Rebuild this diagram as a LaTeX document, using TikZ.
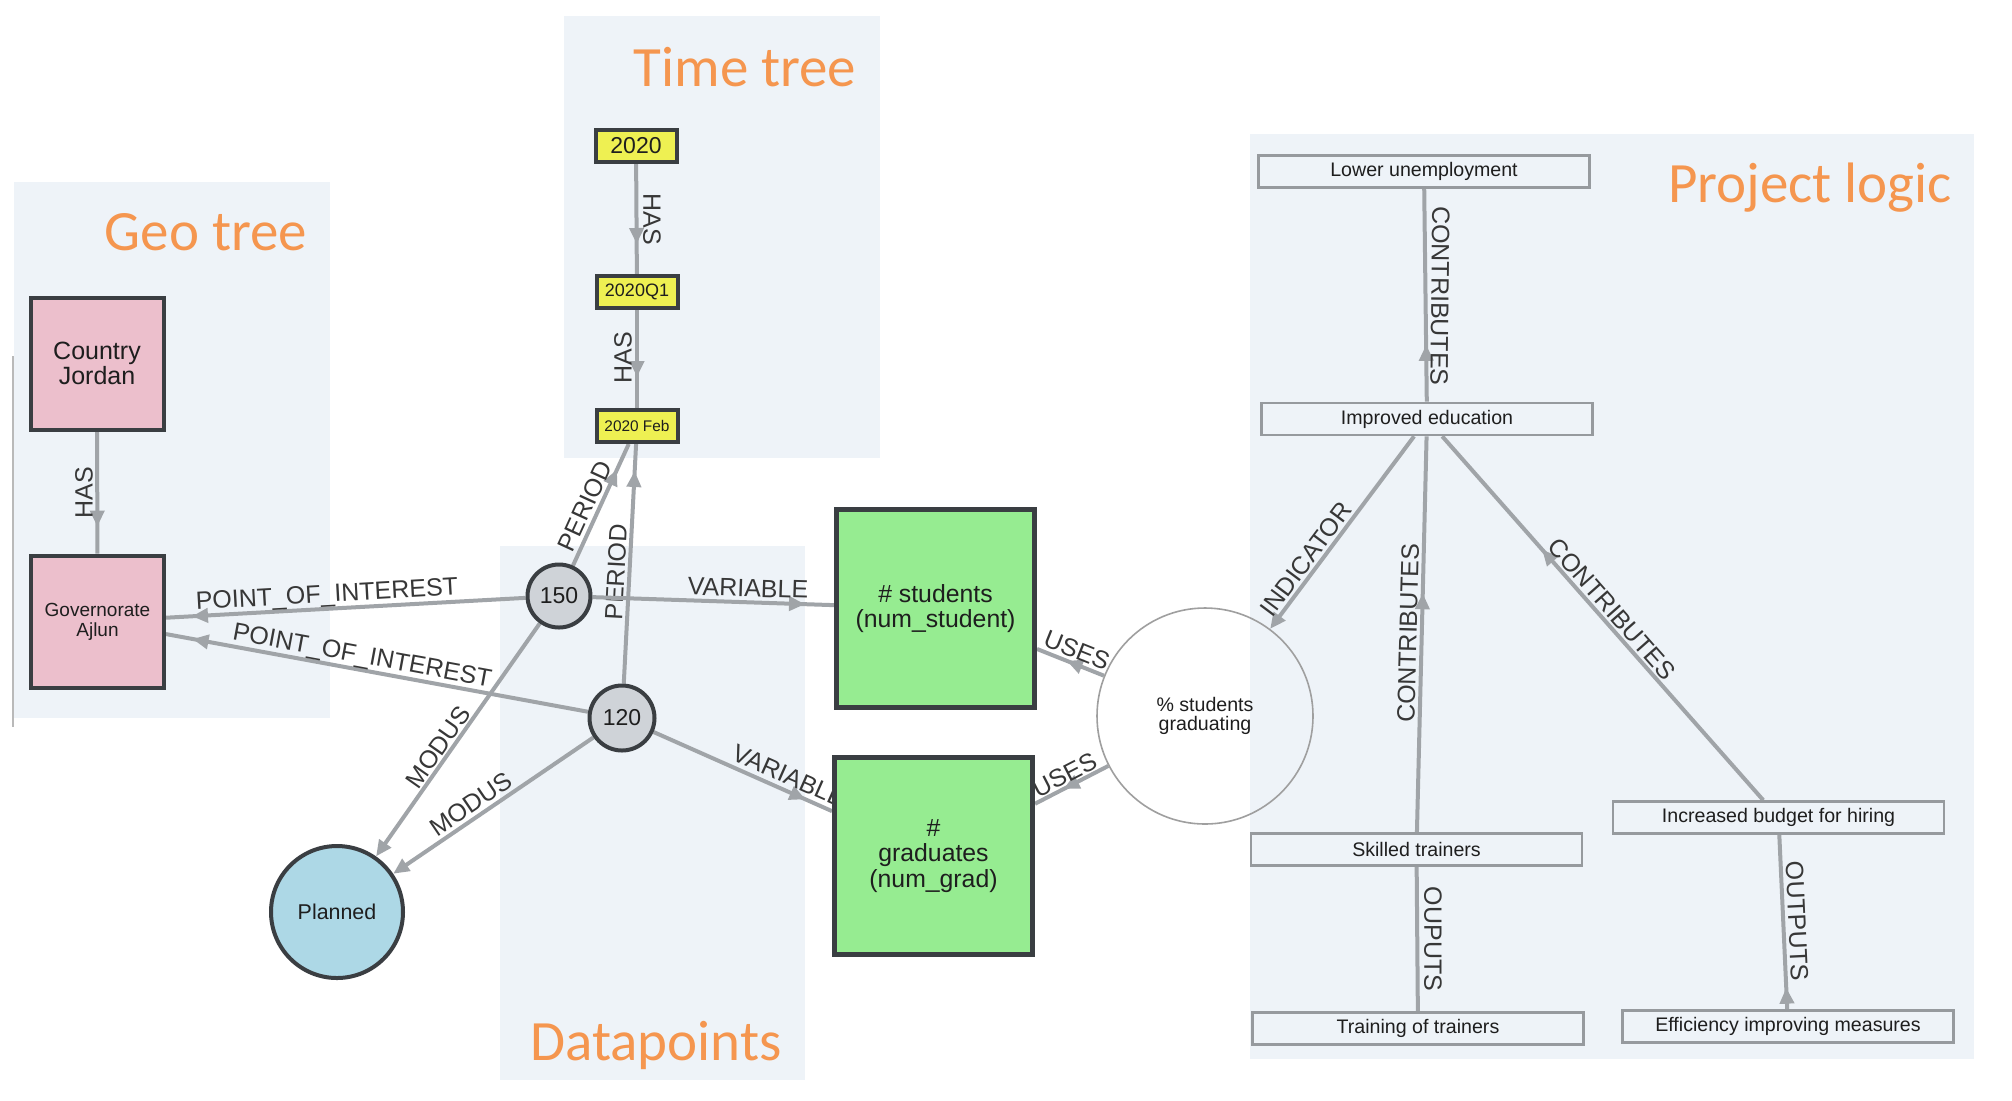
\documentclass[tikz,border=0pt]{standalone}
\usepackage{fontspec}
\setmainfont{Liberation Sans}
\newfontfamily\titlefont{Carlito}
\usetikzlibrary{arrows.meta,decorations.markings}
\definecolor{panel}{RGB}{238,243,248}
\definecolor{orng}{RGB}{245,150,79}
\definecolor{pinkn}{RGB}{236,191,204}
\definecolor{greenn}{RGB}{150,236,145}
\definecolor{yelln}{RGB}{238,240,82}
\definecolor{bluen}{RGB}{173,216,230}
\definecolor{grayn}{RGB}{207,211,216}
\definecolor{bordern}{RGB}{58,62,66}
\definecolor{edgegray}{RGB}{160,164,168}
\definecolor{boxgray}{RGB}{150,154,158}
\definecolor{labeltext}{RGB}{55,55,55}
\definecolor{nodetext}{RGB}{30,30,30}
\pgfdeclarelayer{bg}
\pgfdeclarelayer{edges}
\pgfsetlayers{bg,edges,main}
\begin{document}
\begin{tikzpicture}[x=0.5pt,y=-0.5pt,
  panelbox/.style={fill=panel,draw=none},
  titletext/.style={font=\titlefont\fontsize{28.5}{30}\selectfont,text=orng,inner sep=0pt},
  darkbox/.style={rectangle,draw=bordern,line width=2pt,text=nodetext,align=center,inner sep=0pt},
  geobox/.style={darkbox,fill=pinkn,minimum width=66.5pt,minimum height=66pt},
  timebox/.style={darkbox,fill=yelln,minimum width=40.5pt,minimum height=16pt},
  valcirc/.style={circle,draw=bordern,line width=2pt,fill=grayn,text=nodetext,inner sep=0pt,
    minimum size=31.5pt,font=\fontsize{11.5}{12}\selectfont},
  varbox/.style={darkbox,fill=greenn,line width=2.5pt,minimum width=99pt,minimum height=99pt,
    font=\fontsize{12.4}{12.6}\selectfont},
  logicbox/.style={rectangle,draw=boxgray,line width=1.3pt,fill=panel,text=nodetext,inner sep=0pt,
    minimum width=165.5pt,minimum height=16pt,font=\fontsize{9.8}{10}\selectfont},
  edge/.style={color=edgegray,line width=2pt},
  arr/.style={postaction={decorate,decoration={markings,
    mark=at position #1 with {\arrow{Triangle[length=8pt,width=7pt]}}}}},
  endarr/.style={-{Triangle[length=8pt,width=7pt]}},
  elabel/.style={font=\fontsize{12.5}{13}\selectfont,text=labeltext,inner sep=0pt}
]
\useasboundingbox (0,0) rectangle (2012,1100);

% ---------- panels and titles ----------
\begin{pgfonlayer}{bg}
  \fill[white] (0,0) rectangle (2012,1100);
  \fill[panelbox] (14,182) rectangle (330,718);
  \fill[panelbox] (564,16) rectangle (880,458);
  \fill[panelbox] (500,546) rectangle (805,1080);
  \fill[panelbox] (1250,134) rectangle (1974,1059);
  \draw[gray!55,line width=0.6pt] (13,356) -- (13,727);
  \node[titletext] (tgeo) at (206,232) {Geo tree};
  \node[titletext] (ttime) at (745,67) {Time tree};
  \node[titletext] (tdata) at (656,1045) {Datapoints};
  \node[titletext] (tlogic) at (1810,188) {Project logic};
\end{pgfonlayer}

% ---------- nodes ----------
\node[geobox,font=\fontsize{12.5}{12.8}\selectfont] (country) at (97,363.5) {Country\\Jordan};
\node[geobox,font=\fontsize{9.5}{10}\selectfont] (gov) at (97.5,621.5) {Governorate\\Ajlun};

\node[timebox,font=\fontsize{11.5}{12}\selectfont] (y2020) at (636,146) {2020};
\node[timebox,font=\fontsize{9}{10}\selectfont] (q1) at (637,292) {2020Q1};
\node[timebox,font=\fontsize{7.7}{8}\selectfont] (feb) at (637,426) {2020 Feb};

\node[valcirc] (n150) at (559,596) {150};
\node[valcirc,minimum size=32.5pt] (n120) at (622,718) {120};
\node[circle,draw=bordern,line width=2pt,fill=bluen,text=nodetext,inner sep=0pt,
  minimum size=66pt,font=\fontsize{10.7}{11}\selectfont] (planned) at (337,912) {Planned};

\node[varbox] (students) at (935.5,608.5) {\# students\\(num\_student)};
\node[varbox,minimum height=98.5pt] (grads) at (933.5,856) {\#\\graduates\\(num\_grad)};

\node[circle,draw=gray!75,line width=0.8pt,text=nodetext,inner sep=0pt,align=center,
  minimum size=108pt,font=\fontsize{9.8}{9.8}\selectfont] (pct) at (1205,716) {\% students\\graduating};

\node[logicbox] (lower) at (1424,171.5) {Lower unemployment};
\node[logicbox] (improved) at (1427,419) {Improved education};
\node[logicbox] (skilled) at (1416.5,849.5) {Skilled trainers};
\node[logicbox] (training) at (1418,1028.5) {Training of trainers};
\node[logicbox] (budget) at (1778.5,817.5) {Increased budget for hiring};
\node[logicbox] (efficiency) at (1788,1026.5) {Efficiency improving measures};

% ---------- connectors ----------
\begin{pgfonlayer}{edges}
  \draw[edge,arr=-15pt] (y2020) -- (q1)
    node[elabel,at={(652,219)},rotate=-90] {HAS};
  \draw[edge,arr=-15.5pt] (q1) -- (feb)
    node[elabel,at={(623,358)},rotate=90] {HAS};
  \draw[edge,arr=-13.5pt] (country) -- (gov)
    node[elabel,at={(84,493)},rotate=90] {HAS};

  \draw[edge,arr=-13pt] (n150) -- (gov)
    node[elabel,at={(327,596)},rotate=3.2] {POINT\_OF\_INTEREST};
  \draw[edge,arr=-13.5pt] (n120) -- (gov)
    node[elabel,at={(362,657)},rotate=-10.5] {POINT\_OF\_INTEREST};

  \draw[edge,arr=-14pt] (n150) -- (feb)
    node[elabel,at={(585,506)},rotate=65.4] {PERIOD};
  \draw[edge,arr=-13.5pt] (n120) -- (feb)
    node[elabel,at={(616,572)},rotate=87] {PERIOD};

  \draw[edge,arr=-14.5pt] (n150) -- (students)
    node[elabel,at={(748,588)},rotate=-1.8] {VARIABLE};
  \draw[edge,arr=-14.5pt] (n120) -- (grads)
    node[elabel,at={(789,776)},rotate=-23.9] {VARIABLE};

  \draw[edge,endarr] (n150) -- (planned)
    node[elabel,at={(438,747)},rotate=54.9] {MODUS};
  \draw[edge,endarr] (n120) -- (planned)
    node[elabel,at={(471,804)},rotate=34.2] {MODUS};

  \draw[edge,arr=-16pt] (pct) -- (students)
    node[elabel,at={(1077,650)},rotate=-21.8] {USES};
  \draw[edge,arr=-16pt] (pct) -- (grads)
    node[elabel,at={(1065,775)},rotate=27.2] {USES};

  \draw[edge,endarr] (improved) -- (pct)
    node[elabel,at={(1306,559)},rotate=53.2] {INDICATOR};
  \draw[edge,arr=-78pt] (improved) -- (lower)
    node[elabel,at={(1440,296)},rotate=-90.6] {CONTRIBUTES};
  \draw[edge,arr=-78.5pt] (skilled) -- (improved)
    node[elabel,at={(1408,633)},rotate=88.5] {CONTRIBUTES};
  \draw[edge,arr=-75.5pt] (budget) -- (improved)
    node[elabel,at={(1612,609)},rotate=-48.6] {CONTRIBUTES};
  \draw[edge,arr=-77pt] (training) -- (skilled)
    node[elabel,at={(1433,939)},rotate=-90] {OUPUTS};
  \draw[edge,arr=-76.5pt] (efficiency) -- (budget)
    node[elabel,at={(1797,921)},rotate=-87.3] {OUTPUTS};
\end{pgfonlayer}
\end{tikzpicture}
\end{document}
